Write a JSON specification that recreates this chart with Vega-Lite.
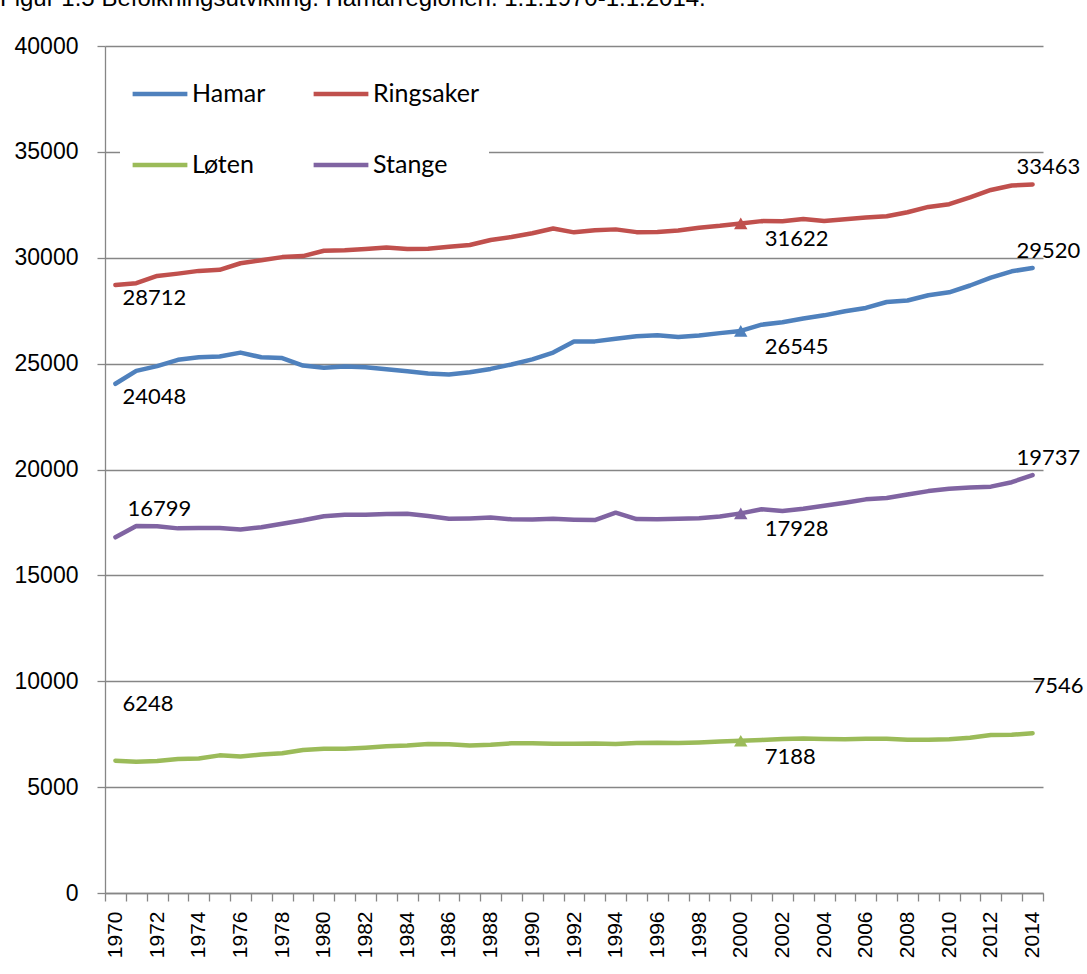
{
  "$schema": "https://vega.github.io/schema/vega-lite/v6.json",
  "autosize": "none",
  "width": 938,
  "height": 847,
  "padding": {"left": 105, "top": 46, "right": 44, "bottom": 81},
  "background": "white",
  "title": {
    "text": "Figur 1.5 Befolkningsutvikling. Hamarregionen. 1.1.1970-1.1.2014.",
    "anchor": "start",
    "frame": "group",
    "font": "Liberation Sans",
    "fontSize": 24,
    "fontWeight": "normal",
    "color": "black",
    "baseline": "alphabetic",
    "offset": 0,
    "dx": -105,
    "dy": -5
  },
  "config": {
    "view": {"stroke": null},
    "axis": {
      "domainColor": "#868686",
      "domainWidth": 1.3,
      "tickColor": "#868686",
      "tickWidth": 1.3,
      "gridColor": "#868686",
      "gridWidth": 1.3,
      "labelColor": "black",
      "labelFont": "Liberation Sans",
      "title": null
    }
  },
  "datasets": {
    "pop": [
      {"year":1970,"series":"Hamar","value":24048},{"year":1971,"series":"Hamar","value":24660},{"year":1972,"series":"Hamar","value":24880},{"year":1973,"series":"Hamar","value":25180},{"year":1974,"series":"Hamar","value":25300},{"year":1975,"series":"Hamar","value":25340},{"year":1976,"series":"Hamar","value":25520},{"year":1977,"series":"Hamar","value":25300},{"year":1978,"series":"Hamar","value":25260},{"year":1979,"series":"Hamar","value":24910},{"year":1980,"series":"Hamar","value":24800},{"year":1981,"series":"Hamar","value":24860},{"year":1982,"series":"Hamar","value":24830},{"year":1983,"series":"Hamar","value":24730},{"year":1984,"series":"Hamar","value":24640},{"year":1985,"series":"Hamar","value":24530},{"year":1986,"series":"Hamar","value":24490},{"year":1987,"series":"Hamar","value":24590},{"year":1988,"series":"Hamar","value":24750},{"year":1989,"series":"Hamar","value":24960},{"year":1990,"series":"Hamar","value":25200},{"year":1991,"series":"Hamar","value":25520},{"year":1992,"series":"Hamar","value":26040},{"year":1993,"series":"Hamar","value":26050},{"year":1994,"series":"Hamar","value":26170},{"year":1995,"series":"Hamar","value":26290},{"year":1996,"series":"Hamar","value":26340},{"year":1997,"series":"Hamar","value":26260},{"year":1998,"series":"Hamar","value":26330},{"year":1999,"series":"Hamar","value":26440},{"year":2000,"series":"Hamar","value":26545},{"year":2001,"series":"Hamar","value":26840},{"year":2002,"series":"Hamar","value":26950},{"year":2003,"series":"Hamar","value":27130},{"year":2004,"series":"Hamar","value":27280},{"year":2005,"series":"Hamar","value":27470},{"year":2006,"series":"Hamar","value":27630},{"year":2007,"series":"Hamar","value":27910},{"year":2008,"series":"Hamar","value":27980},{"year":2009,"series":"Hamar","value":28230},{"year":2010,"series":"Hamar","value":28370},{"year":2011,"series":"Hamar","value":28690},{"year":2012,"series":"Hamar","value":29060},{"year":2013,"series":"Hamar","value":29360},{"year":2014,"series":"Hamar","value":29520},
      {"year":1970,"series":"Ringsaker","value":28712},{"year":1971,"series":"Ringsaker","value":28800},{"year":1972,"series":"Ringsaker","value":29140},{"year":1973,"series":"Ringsaker","value":29250},{"year":1974,"series":"Ringsaker","value":29380},{"year":1975,"series":"Ringsaker","value":29430},{"year":1976,"series":"Ringsaker","value":29740},{"year":1977,"series":"Ringsaker","value":29880},{"year":1978,"series":"Ringsaker","value":30030},{"year":1979,"series":"Ringsaker","value":30080},{"year":1980,"series":"Ringsaker","value":30330},{"year":1981,"series":"Ringsaker","value":30350},{"year":1982,"series":"Ringsaker","value":30410},{"year":1983,"series":"Ringsaker","value":30480},{"year":1984,"series":"Ringsaker","value":30410},{"year":1985,"series":"Ringsaker","value":30420},{"year":1986,"series":"Ringsaker","value":30520},{"year":1987,"series":"Ringsaker","value":30600},{"year":1988,"series":"Ringsaker","value":30840},{"year":1989,"series":"Ringsaker","value":30980},{"year":1990,"series":"Ringsaker","value":31160},{"year":1991,"series":"Ringsaker","value":31380},{"year":1992,"series":"Ringsaker","value":31200},{"year":1993,"series":"Ringsaker","value":31300},{"year":1994,"series":"Ringsaker","value":31340},{"year":1995,"series":"Ringsaker","value":31210},{"year":1996,"series":"Ringsaker","value":31220},{"year":1997,"series":"Ringsaker","value":31290},{"year":1998,"series":"Ringsaker","value":31420},{"year":1999,"series":"Ringsaker","value":31510},{"year":2000,"series":"Ringsaker","value":31622},{"year":2001,"series":"Ringsaker","value":31730},{"year":2002,"series":"Ringsaker","value":31720},{"year":2003,"series":"Ringsaker","value":31830},{"year":2004,"series":"Ringsaker","value":31740},{"year":2005,"series":"Ringsaker","value":31820},{"year":2006,"series":"Ringsaker","value":31900},{"year":2007,"series":"Ringsaker","value":31960},{"year":2008,"series":"Ringsaker","value":32150},{"year":2009,"series":"Ringsaker","value":32400},{"year":2010,"series":"Ringsaker","value":32530},{"year":2011,"series":"Ringsaker","value":32850},{"year":2012,"series":"Ringsaker","value":33200},{"year":2013,"series":"Ringsaker","value":33410},{"year":2014,"series":"Ringsaker","value":33463},
      {"year":1970,"series":"Løten","value":6248},{"year":1971,"series":"Løten","value":6200},{"year":1972,"series":"Løten","value":6230},{"year":1973,"series":"Løten","value":6330},{"year":1974,"series":"Løten","value":6350},{"year":1975,"series":"Løten","value":6500},{"year":1976,"series":"Løten","value":6450},{"year":1977,"series":"Løten","value":6540},{"year":1978,"series":"Løten","value":6600},{"year":1979,"series":"Løten","value":6750},{"year":1980,"series":"Løten","value":6810},{"year":1981,"series":"Løten","value":6810},{"year":1982,"series":"Løten","value":6860},{"year":1983,"series":"Løten","value":6930},{"year":1984,"series":"Løten","value":6970},{"year":1985,"series":"Løten","value":7040},{"year":1986,"series":"Løten","value":7030},{"year":1987,"series":"Løten","value":6970},{"year":1988,"series":"Løten","value":7000},{"year":1989,"series":"Løten","value":7070},{"year":1990,"series":"Løten","value":7070},{"year":1991,"series":"Løten","value":7050},{"year":1992,"series":"Løten","value":7050},{"year":1993,"series":"Løten","value":7060},{"year":1994,"series":"Løten","value":7040},{"year":1995,"series":"Løten","value":7080},{"year":1996,"series":"Løten","value":7100},{"year":1997,"series":"Løten","value":7080},{"year":1998,"series":"Løten","value":7110},{"year":1999,"series":"Løten","value":7160},{"year":2000,"series":"Løten","value":7188},{"year":2001,"series":"Løten","value":7230},{"year":2002,"series":"Løten","value":7270},{"year":2003,"series":"Løten","value":7300},{"year":2004,"series":"Løten","value":7270},{"year":2005,"series":"Løten","value":7260},{"year":2006,"series":"Løten","value":7280},{"year":2007,"series":"Løten","value":7280},{"year":2008,"series":"Løten","value":7240},{"year":2009,"series":"Løten","value":7240},{"year":2010,"series":"Løten","value":7260},{"year":2011,"series":"Løten","value":7330},{"year":2012,"series":"Løten","value":7460},{"year":2013,"series":"Løten","value":7470},{"year":2014,"series":"Løten","value":7546},
      {"year":1970,"series":"Stange","value":16799},{"year":1971,"series":"Stange","value":17330},{"year":1972,"series":"Stange","value":17320},{"year":1973,"series":"Stange","value":17220},{"year":1974,"series":"Stange","value":17240},{"year":1975,"series":"Stange","value":17240},{"year":1976,"series":"Stange","value":17170},{"year":1977,"series":"Stange","value":17270},{"year":1978,"series":"Stange","value":17440},{"year":1979,"series":"Stange","value":17600},{"year":1980,"series":"Stange","value":17790},{"year":1981,"series":"Stange","value":17860},{"year":1982,"series":"Stange","value":17860},{"year":1983,"series":"Stange","value":17900},{"year":1984,"series":"Stange","value":17910},{"year":1985,"series":"Stange","value":17800},{"year":1986,"series":"Stange","value":17670},{"year":1987,"series":"Stange","value":17690},{"year":1988,"series":"Stange","value":17730},{"year":1989,"series":"Stange","value":17650},{"year":1990,"series":"Stange","value":17640},{"year":1991,"series":"Stange","value":17670},{"year":1992,"series":"Stange","value":17630},{"year":1993,"series":"Stange","value":17610},{"year":1994,"series":"Stange","value":17960},{"year":1995,"series":"Stange","value":17660},{"year":1996,"series":"Stange","value":17650},{"year":1997,"series":"Stange","value":17670},{"year":1998,"series":"Stange","value":17700},{"year":1999,"series":"Stange","value":17780},{"year":2000,"series":"Stange","value":17928},{"year":2001,"series":"Stange","value":18120},{"year":2002,"series":"Stange","value":18040},{"year":2003,"series":"Stange","value":18150},{"year":2004,"series":"Stange","value":18290},{"year":2005,"series":"Stange","value":18430},{"year":2006,"series":"Stange","value":18590},{"year":2007,"series":"Stange","value":18650},{"year":2008,"series":"Stange","value":18820},{"year":2009,"series":"Stange","value":18980},{"year":2010,"series":"Stange","value":19090},{"year":2011,"series":"Stange","value":19150},{"year":2012,"series":"Stange","value":19190},{"year":2013,"series":"Stange","value":19400},{"year":2014,"series":"Stange","value":19737}
    ]
  },
  "data": {"name": "pop"},
  "encoding": {
    "x": {
      "field": "year",
      "type": "ordinal",
      "scale": {"type": "band", "paddingInner": 0, "paddingOuter": 0},
      "axis": {
        "labelAngle": -90,
        "labelFontSize": 21,
        "labelPadding": 10,
        "tickBand": "extent",
        "tickSize": 8,
        "grid": false,
        "labelExpr": "datum.value % 2 == 0 ? datum.label : ''"
      }
    },
    "y": {
      "field": "value",
      "type": "quantitative",
      "scale": {"domain": [0, 40000], "nice": false},
      "axis": {
        "values": [0, 5000, 10000, 15000, 20000, 25000, 30000, 35000, 40000],
        "format": "d",
        "labelFontSize": 23,
        "labelPadding": 19,
        "tickSize": 8,
        "grid": true
      }
    }
  },
  "layer": [
    {
      "mark": {"type": "line", "strokeWidth": 4.5, "strokeJoin": "round", "strokeCap": "round"},
      "encoding": {
        "color": {
          "field": "series",
          "type": "nominal",
          "scale": {"domain": ["Hamar", "Ringsaker", "Løten", "Stange"], "range": ["#4F81BD", "#C0504D", "#9BBB59", "#8064A2"]},
          "legend": {
            "title": null,
            "orient": "none",
            "direction": "horizontal",
            "legendX": 15,
            "legendY": 8,
            "columns": 2,
            "columnPadding": 38,
            "rowPadding": 28,
            "padding": 10,
            "fillColor": "white",
            "symbolType": "stroke",
            "symbolSize": 3000,
            "symbolStrokeWidth": 4.5,
            "labelFont": "Lato",
            "labelFontSize": 25,
            "labelColor": "black",
            "labelOffset": 2
          }
        }
      }
    },
    {
      "transform": [{"filter": "datum.year == 2000"}],
      "mark": {"type": "point", "shape": "triangle-up", "filled": true, "opacity": 1, "size": 180},
      "encoding": {
        "color": {"field": "series", "type": "nominal", "legend": null}
      }
    },
    {
      "transform": [{"filter": "datum.year == 1970 && (datum.series == 'Hamar' || datum.series == 'Ringsaker')"}],
      "mark": {"type": "text", "align": "left", "baseline": "middle", "dx": 7, "dy": 13, "font": "Lato", "fontSize": 22, "color": "black"},
      "encoding": {"text": {"field": "value", "type": "quantitative", "format": "d"}}
    },
    {
      "transform": [{"filter": "datum.year == 1970 && datum.series == 'Stange'"}],
      "mark": {"type": "text", "align": "left", "baseline": "middle", "dx": 12, "dy": -28, "font": "Lato", "fontSize": 22, "color": "black"},
      "encoding": {"text": {"field": "value", "type": "quantitative", "format": "d"}}
    },
    {
      "transform": [{"filter": "datum.year == 1970 && datum.series == 'Løten'"}],
      "mark": {"type": "text", "align": "left", "baseline": "middle", "dx": 7, "dy": -57, "font": "Lato", "fontSize": 22, "color": "black"},
      "encoding": {"text": {"field": "value", "type": "quantitative", "format": "d"}}
    },
    {
      "transform": [{"filter": "datum.year == 2000"}],
      "mark": {"type": "text", "align": "left", "baseline": "middle", "dx": 24, "dy": 16, "font": "Lato", "fontSize": 22, "color": "black"},
      "encoding": {"text": {"field": "value", "type": "quantitative", "format": "d"}}
    },
    {
      "transform": [{"filter": "datum.year == 2014 && datum.series != 'Løten'"}],
      "mark": {"type": "text", "align": "left", "baseline": "middle", "dx": -16, "dy": -17, "font": "Lato", "fontSize": 22, "color": "black"},
      "encoding": {"text": {"field": "value", "type": "quantitative", "format": "d"}}
    },
    {
      "transform": [{"filter": "datum.year == 2014 && datum.series == 'Løten'"}],
      "mark": {"type": "text", "align": "left", "baseline": "middle", "dx": 0, "dy": -47, "font": "Lato", "fontSize": 22, "color": "black"},
      "encoding": {"text": {"field": "value", "type": "quantitative", "format": "d"}}
    }
  ]
}
